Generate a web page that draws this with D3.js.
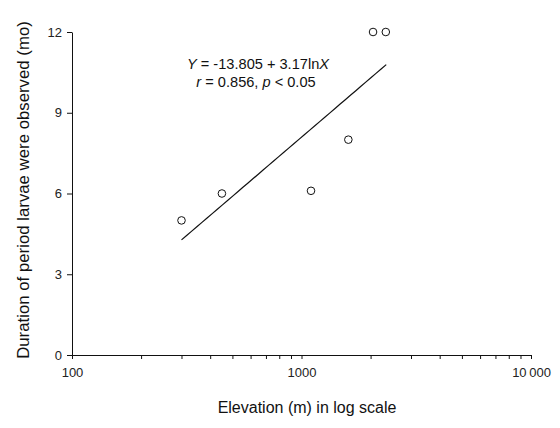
<!DOCTYPE html>
<html>
  <head>
    <meta charset="utf-8">
    <title>Larvae duration vs elevation</title>
    <script src="https://cdn.jsdelivr.net/npm/d3@7"></script>
    <style>
      body { margin: 0; background: #fff; }
      svg { font-family: "Liberation Sans", Arial, sans-serif; }
      .tick text { font-size: 13px; fill: #222; }
      .domain, .tick line { stroke: #111; }
    </style>
  </head>
  <body>
    <svg id="chart" width="560" height="428"></svg>
    <script>
      // data
      elevation = [300, 450, 1100, 1600, 2050, 2330];
      duration = [5.0, 6.0, 6.1, 8.0, 12.0, 12.0];
      yTicks = [0, 3, 6, 9, 12];
      xTicks = [100, 1000, 10000];
      xTickLabels = ["100", "1000", "10\u2009000"];
      fitRange = [300, 2340];

      chart = d3.select("#chart");
      margin = { top: 32, right: 29, bottom: 73, left: 72 };
      width = 560;
      height = 428;

      x = d3.scaleLog()
        .domain([100, 10000])
        .range([margin.left, width - margin.right]);
      y = d3.scaleLinear()
        .domain([0, 12])
        .range([height - margin.bottom, margin.top]);

      // y axis
      chart.append("g")
        .attr("transform", "translate(" + margin.left + ", 0)")
        .call(d3.axisLeft(y)
          .tickValues(yTicks)
          .tickSizeOuter(0)
          .tickSizeInner(5)
          .tickPadding(5)
        );

      // x axis, with minor ticks in every decade
      minor = [];
      [100, 1000].forEach(function(d) {
        for (i = 2; i < 10; i++) minor.push(d * i);
      });
      chart.append("g")
        .attr("transform", "translate(0, " + y(0) + ")")
        .call(d3.axisBottom(x)
          .tickValues(xTicks.concat(minor))
          .tickFormat(function(d) {
            j = xTicks.indexOf(d);
            return j < 0 ? "" : xTickLabels[j];
          })
          .tickSizeOuter(0)
          .tickSizeInner(4)
          .tickPadding(9)
        );

      // fitted curve Y = -13.805 + 3.17 lnX
      fit = d3.range(0, 41).map(function(i) {
        e = Math.exp(Math.log(fitRange[0]) + i / 40 * (Math.log(fitRange[1]) - Math.log(fitRange[0])));
        return [e, -13.805 + 3.17 * Math.log(e)];
      });
      chart.append("path")
        .attr("d", d3.line()
          .x(function(d) { return x(d[0]); })
          .y(function(d) { return y(d[1]); })(fit))
        .attr("fill", "none")
        .attr("stroke", "#111")
        .attr("stroke-width", 1.2);

      // observations
      chart.selectAll(".pt")
        .data(elevation)
        .enter()
        .append("circle")
          .attr("class", "pt")
          .attr("cx", function(d) { return x(d); })
          .attr("cy", function(d, i) { return y(duration[i]); })
          .attr("r", 3.8)
          .attr("fill", "#fff")
          .attr("stroke", "#111")
          .attr("stroke-width", 1);

      // equation
      eq = chart.append("text")
        .attr("x", 258)
        .attr("y", 69)
        .attr("text-anchor", "middle")
        .style("font-size", "14.6px")
        .attr("fill", "#111");
      eq.append("tspan").style("font-style", "italic").text("Y");
      eq.append("tspan").text(" = -13.805 + 3.17ln");
      eq.append("tspan").style("font-style", "italic").text("X");

      st = chart.append("text")
        .attr("x", 256)
        .attr("y", 87)
        .attr("text-anchor", "middle")
        .style("font-size", "14.6px")
        .attr("fill", "#111");
      st.append("tspan").style("font-style", "italic").text("r");
      st.append("tspan").text(" = 0.856, ");
      st.append("tspan").style("font-style", "italic").text("p");
      st.append("tspan").text(" < 0.05");

      // axis titles
      chart.append("text")
        .attr("x", 307)
        .attr("y", 413)
        .attr("text-anchor", "middle")
        .style("font-size", "16px")
        .attr("fill", "#111")
        .text("Elevation (m) in log scale");
      chart.append("text")
        .attr("transform", "translate(29, 190) rotate(-90)")
        .attr("text-anchor", "middle")
        .style("font-size", "16.8px")
        .attr("fill", "#111")
        .text("Duration of period larvae were observed (mo)");
    </script>
  </body>
</html>
